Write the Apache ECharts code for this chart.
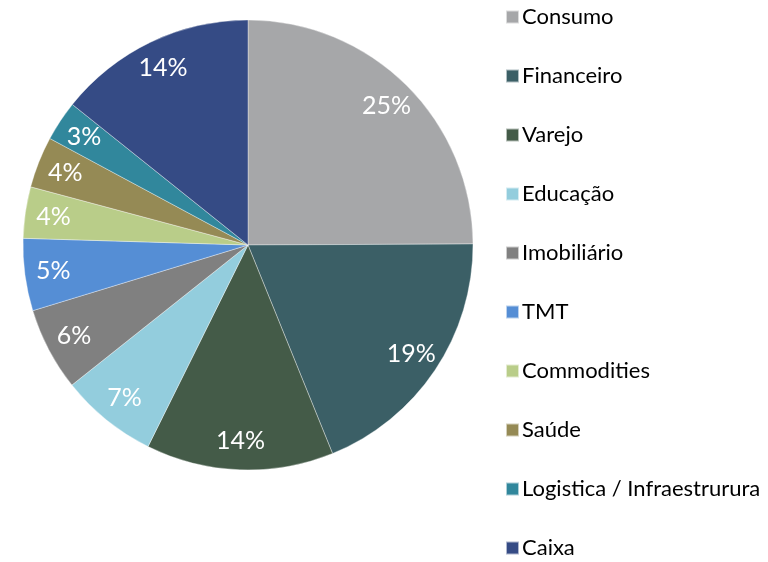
<!DOCTYPE html>
<html><head><meta charset="utf-8">
<script src="https://cdn.jsdelivr.net/npm/echarts@6/dist/echarts.min.js"></script>
<style>html,body{margin:0;padding:0;background:#fff}#c{width:768px;height:562px}</style>
</head><body><div id="c"></div>
<script>
const categories = ['Consumo','Financeiro','Varejo','Educação','Imobiliário','TMT','Commodities','Saúde','Logistica / Infraestrurura','Caixa'];
const values = [25, 19, 13.5, 7, 6, 5.2, 3.7, 3.7, 2.9, 14.3];
const colors = ['#a6a7a9','#3b5f66','#445b48','#93cddd','#808080','#558ed5','#b9cd89','#958a55','#31879c','#354b85'];

const chart = echarts.init(document.getElementById('c'));
const data = categories.map((n,i)=>({name:n, value:values[i], itemStyle:{color:colors[i]}}));
const labelData = categories.map((n,i)=>({name:n, value:values[i]}));
chart.setOption({
  animation:false,
  legend:{
    orient:'vertical', left:505, top:6, padding:0,
    itemWidth:13, itemHeight:13, itemGap:37.0,
    icon:'rect',
    textStyle:{fontFamily:'Lato', fontSize:22, lineHeight:22, color:'#000', padding:[0,0,0,-2]},
    data:categories
  },
  series:[
    {
      type:'pie', center:[248,245], radius:[0,225], startAngle:90, clockwise:true,
      label:{show:false}, labelLine:{show:false},
      itemStyle:{borderColor:'rgba(255,255,255,0.6)', borderWidth:0.6},
      emphasis:{disabled:true},
      data:data
    },
    {
      type:'pie', center:[248,245], radius:[162,225], startAngle:90, clockwise:true,
      silent:true, legendHoverLink:false,
      itemStyle:{color:'rgba(0,0,0,0)'},
      label:{show:true, position:'inside', color:'#fff', fontFamily:'Lato', fontSize:25,
        formatter:p=>Math.round(p.value)+'%'},
      labelLine:{show:false},
      emphasis:{disabled:true},
      data:labelData
    }
  ]
});
</script></body></html>
